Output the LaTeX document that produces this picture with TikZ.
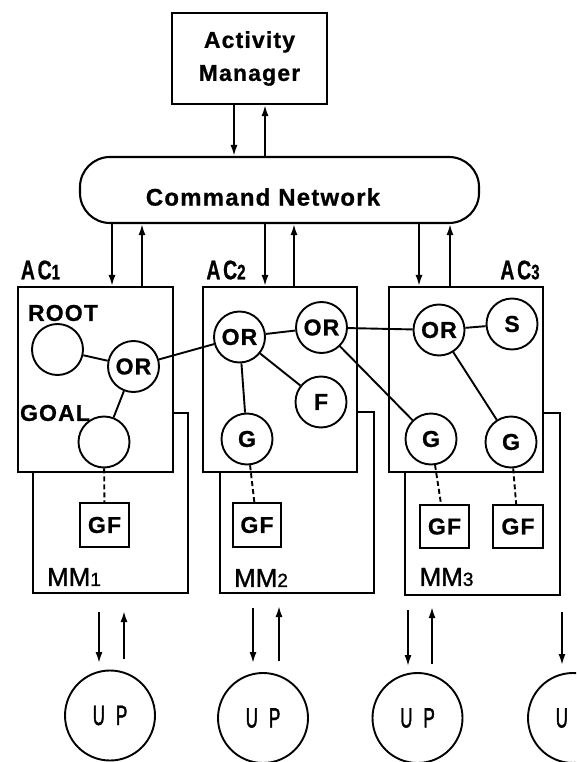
\documentclass[tikz,border=0pt]{standalone}
\usepackage{fontspec}
\usetikzlibrary{arrows.meta}
\newfontfamily\lblfont[LetterSpace=5,FakeBold=0.8]{Liberation Sans}
\newfontfamily\condfont[FakeStretch=0.72,LetterSpace=10,FakeBold=0.6]{Liberation Sans}
\newfontfamily\upfont[FakeStretch=0.6,LetterSpace=40,FakeBold=1.5]{Liberation Sans}
\newfontfamily\plainsans[FakeBold=1.2]{Liberation Sans}
\begin{document}
\begin{tikzpicture}[x=1pt,y=-1pt,
  box/.style={draw,line width=2.1pt,fill=white,inner sep=0pt,rectangle},
  nd/.style={draw,circle,line width=1.9pt,fill=white,inner sep=0pt,minimum size=51pt,
    font=\lblfont\bfseries\fontsize{23}{26}\selectfont},
  bold/.style={font=\lblfont\bfseries\fontsize{23}{33}\selectfont},
  gfbox/.style={box,line width=1.9pt,minimum width=49pt,minimum height=44pt,
    font=\lblfont\bfseries\fontsize{23}{26}\selectfont},
  acbox/.style={box,minimum width=155pt,minimum height=185pt},
  mmbox/.style={box,minimum width=155pt,minimum height=181pt},
  upnode/.style={draw,circle,line width=1.9pt,inner sep=0pt,minimum size=90pt,
    font=\upfont\fontsize{28}{28}\selectfont},
  arr/.style={line width=1.8pt,-{Latex[length=11pt,width=7pt]}},
  link/.style={line width=1.9pt},
  dashlink/.style={line width=1.9pt,dash pattern=on 5pt off 3pt},
  aclbl/.style={font=\condfont\bfseries\fontsize{27}{27}\selectfont,inner sep=0pt},
  mmlbl/.style={font=\plainsans\fontsize{26}{26}\selectfont,inner sep=0pt}
]
\clip (0,0) rectangle (576,762);
\fill[white] (0,0) rectangle (576,762);

% Activity manager and command network
\node[box,minimum width=155pt,minimum height=91pt,bold,align=center] (am) at (249.5,58.5)
  {Activity\\Manager};
\node[draw,line width=2.1pt,rounded corners=30pt,minimum width=399pt,minimum height=66pt,inner sep=0pt] (cn) at (279.5,190) {};
\node[font=\lblfont\bfseries\fontsize{24}{26}\selectfont,inner sep=0pt] (cnt) at (263,197) {Command Network};

\coordinate (amd) at ([xshift=-15.5pt]am.south);
\coordinate (amu) at ([xshift=15.5pt]am.south);
\draw[arr] (amd) -- (amd |- cn.north);
\draw[arr] (amu |- cn.north) -- (amu);

% MM boxes
\node[mmbox,minimum height=180pt] (mm1) at (110.5,503) {};
\node[mmbox,minimum width=154pt] (mm2) at (297,502.5) {};
\node[mmbox,minimum height=182pt] (mm3) at (482.5,504) {};

% AC boxes
\node[acbox] (ac1) at (95.5,379.5) {};
\node[acbox,minimum width=154pt] (ac2) at (280,379.5) {};
\node[acbox,minimum width=154pt] (ac3) at (466,379.5) {};

% labels
\node[aclbl] (l1) at (40.5,270) {AC{\fontsize{21}{21}\selectfont 1}};
\node[aclbl] (l2) at (226,270) {AC{\fontsize{21}{21}\selectfont 2}};
\node[aclbl] (l3) at (520,270) {AC{\fontsize{21}{21}\selectfont 3}};
\node[mmlbl] (m1) at (74,577) {MM{\fontsize{19}{19}\selectfont 1}};
\node[mmlbl] (m2) at (261,578) {MM{\fontsize{19}{19}\selectfont 2}};
\node[mmlbl] (m3) at (446.5,577) {MM{\fontsize{19}{19}\selectfont 3}};
\node[bold,inner sep=0pt] (rootl) at (63,313) {ROOT};
\node[bold,inner sep=0pt] (goall) at (55,413) {GOAL};

% CN <-> AC arrows
\coordinate (d1) at ([xshift=16.5pt]ac1.north);
\coordinate (u1) at ([xshift=46.5pt]ac1.north);
\coordinate (d2) at ([xshift=-15pt]ac2.north);
\coordinate (u2) at ([xshift=14pt]ac2.north);
\coordinate (d3) at ([xshift=-47pt]ac3.north);
\coordinate (u3) at ([xshift=-16pt]ac3.north);
\draw[arr] (d1 |- cn.south) -- (d1);
\draw[arr] (u1) -- (u1 |- cn.south);
\draw[arr] (d2 |- cn.south) -- (d2);
\draw[arr] (u2) -- (u2 |- cn.south);
\draw[arr] (d3 |- cn.south) -- (d3);
\draw[arr] (u3) -- (u3 |- cn.south);

% circles
\node[nd] (root) at (57.5,349.5) {};
\node[nd] (or1) at (133.5,366.5) {OR};
\node[nd] (goal) at (104,442) {};
\node[nd] (or2a) at (239.5,337) {OR};
\node[nd] (or2b) at (321.5,327.5) {OR};
\node[nd] (f) at (321,402) {F};
\node[nd] (g2) at (247,439) {G};
\node[nd] (or3) at (439,330) {OR};
\node[nd] (s) at (512,324) {S};
\node[nd] (g3a) at (431,439) {G};
\node[nd] (g3b) at (511,442) {G};

\draw[link] (root) -- (or1);
\draw[link] (or1) -- (goal);
\draw[link] (or1) -- (or2a);
\draw[link] (or2a) -- (or2b);
\draw[link] (or2a) -- (f);
\draw[link] (or2a) -- (g2);
\draw[link] (or2b) -- (or3);
\draw[link] (or2b) -- (g3a);
\draw[link] (or3) -- (s);
\draw[link] (or3) -- (g3b);

% GF boxes
\node[gfbox] (gf1) at (104.5,525) {GF};
\node[gfbox,minimum width=48pt] (gf2) at (257,525) {GF};
\node[gfbox,minimum height=43pt] (gf3a) at (444.5,526.5) {GF};
\node[gfbox,minimum width=50pt,minimum height=43pt] (gf3b) at (518,526.5) {GF};
\draw[dashlink] (goal) -- (gf1);
\draw[dashlink] (g2) -- (gf2);
\draw[dashlink] (g3a) -- (gf3a);
\draw[dashlink] (g3b) -- (gf3b);

% UP circles
\node[upnode] (up1) at (110,715.5) {UP};
\node[upnode] (up2) at (263,718) {UP};
\node[upnode] (up3) at (417.5,718) {UP};
\node[upnode] (up4) at (573,718) {UP};

\draw[arr] ([xshift=-11pt,yshift=57.5pt]up1.north) -- ([xshift=-11pt,yshift=6.5pt]up1.north);
\draw[arr] ([xshift=14pt,yshift=10.5pt]up1.north) -- ([xshift=14pt,yshift=58.5pt]up1.north);
\draw[arr] ([xshift=-10pt,yshift=64pt]up2.north) -- ([xshift=-10pt,yshift=9pt]up2.north);
\draw[arr] ([xshift=16pt,yshift=11pt]up2.north) -- ([xshift=16pt,yshift=66pt]up2.north);
\draw[arr] ([xshift=-9.5pt,yshift=62pt]up3.north) -- ([xshift=-9.5pt,yshift=6pt]up3.north);
\draw[arr] ([xshift=14.5pt,yshift=8pt]up3.north) -- ([xshift=14.5pt,yshift=65pt]up3.north);
\draw[arr] ([xshift=-11pt,yshift=60pt]up4.north) -- ([xshift=-11pt,yshift=7pt]up4.north);
\end{tikzpicture}
\end{document}
